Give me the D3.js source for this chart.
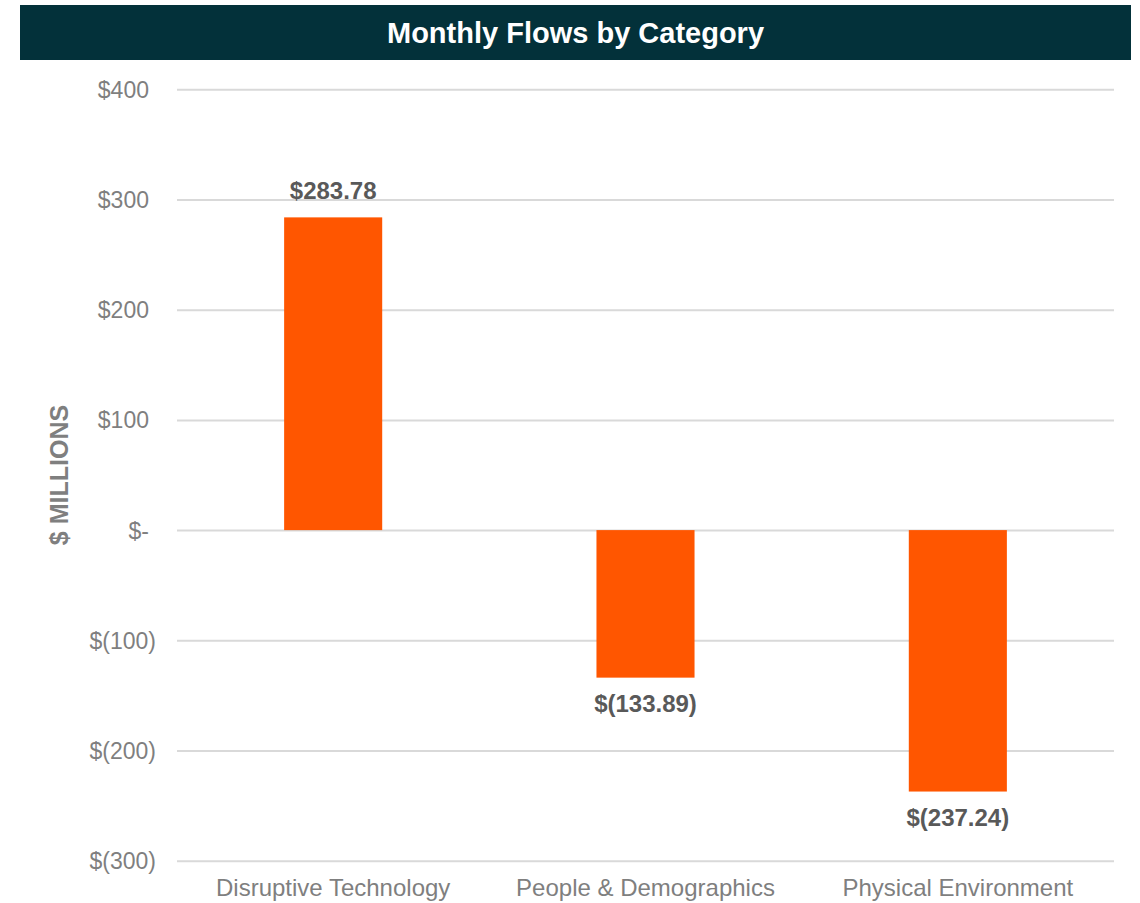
<!DOCTYPE html>
<html>
<head>
<meta charset="utf-8">
<script src="https://cdn.jsdelivr.net/npm/d3@7"></script>
<style>
  body { margin: 0; background: #fff; }
  svg { font-family: "Liberation Sans", Arial, sans-serif; }
</style>
</head>
<body>
<svg id="chart" width="1140" height="903"></svg>
<script>
// data
const categories = ['Disruptive Technology', 'People & Demographics', 'Physical Environment'];
const flows = [283.78, -133.89, -237.24];
const yTicks = [400, 300, 200, 100, 0, -100, -200, -300];

const svg = d3.select('#chart');
const margin = { top: 89, right: 26, bottom: 43, left: 177 };
const width = +svg.attr('width') - margin.left - margin.right;

const fmtTick = (v) => {
  if (v === 0) return '$-';
  return v < 0 ? `$(${Math.abs(v)})` : `$${v}`;
};
const fmtLabel = (v) => (v < 0 ? `$(${d3.format('.2f')(-v)})` : `$${d3.format('.2f')(v)}`);

// title bar
svg.append('rect')
  .attr('x', 20).attr('y', 5)
  .attr('width', 1111).attr('height', 55)
  .attr('fill', '#03313a');
svg.append('text')
  .attr('x', 575.5).attr('y', 43)
  .attr('text-anchor', 'middle')
  .attr('fill', '#fff')
  .style('font-size', '29px')
  .style('font-weight', 'bold')
  .text('Monthly Flows by Category');

const x = d3.scaleBand()
  .domain(categories)
  .range([margin.left, margin.left + width])
  .paddingInner(0.686)
  .paddingOuter(0.343);

const y = d3.scaleLinear()
  .domain([-300, 400])
  .range([860.7, 89.3]);

// grid + y tick labels
const yAxis = svg.append('g')
  .attr('transform', `translate(${margin.left},0)`)
  .call(d3.axisLeft(y).tickValues(yTicks).tickFormat(fmtTick)
    .tickSize(-width).tickPadding(28));
yAxis.select('.domain').remove();
yAxis.selectAll('.tick line')
  .attr('stroke', '#d9d9d9')
  .attr('stroke-width', 2);
// accounting format: the closing paren hangs past the digits
yAxis.selectAll('.tick text')
  .attr('fill', '#7f7f7f')
  .style('font-size', '23px')
  .attr('dy', '0.35em')
  .attr('x', d => (d < 0 ? -21 : -28));

// x labels
const xAxis = svg.append('g')
  .attr('transform', 'translate(0,860.7)')
  .call(d3.axisBottom(x).tickSize(0).tickPadding(0));
xAxis.select('.domain').remove();
xAxis.selectAll('.tick text')
  .attr('fill', '#7f7f7f')
  .attr('y', 35)
  .attr('dy', 0)
  .style('font-size', '24px');

// y title
svg.append('text')
  .attr('transform', `translate(68,${(y(400) + y(-300)) / 2}) rotate(-90)`)
  .attr('text-anchor', 'middle')
  .attr('fill', '#7f7f7f')
  .style('font-size', '25px')
  .style('font-weight', 'bold')
  .text('$ MILLIONS');

// bars
svg.append('g').selectAll('rect')
  .data(flows)
  .enter()
  .append('rect')
  .attr('x', (d, i) => x(categories[i]))
  .attr('y', d => y(Math.max(0, d)))
  .attr('width', x.bandwidth())
  .attr('height', d => Math.abs(y(d) - y(0)))
  .attr('fill', '#ff5600');

// value labels
svg.append('g').selectAll('text')
  .data(flows)
  .enter()
  .append('text')
  .attr('x', (d, i) => x(categories[i]) + x.bandwidth() / 2)
  .attr('y', d => (d >= 0 ? y(d) - 18 : y(d) + 34))
  .attr('text-anchor', 'middle')
  .attr('fill', '#595959')
  .style('font-size', '24px')
  .style('font-weight', 'bold')
  .text(d => fmtLabel(d));
</script>
</body>
</html>
